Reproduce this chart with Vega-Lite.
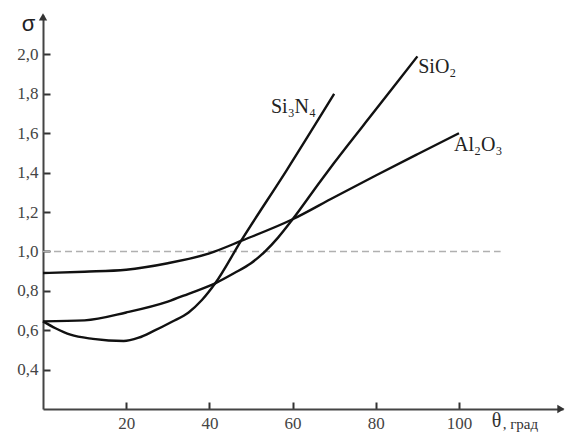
{
  "$schema": "https://vega.github.io/schema/vega-lite/v6.json",
  "width": 520,
  "height": 394,
  "autosize": "none",
  "padding": {"left": 43, "top": 15, "right": 10, "bottom": 23},
  "background": "white",
  "config": {"view": {"stroke": null}},
  "datasets": {
    "curves": [
      {"material": "Al2O3", "theta": 0, "sigma": 0.89},
      {"material": "Al2O3", "theta": 10, "sigma": 0.897},
      {"material": "Al2O3", "theta": 20, "sigma": 0.907},
      {"material": "Al2O3", "theta": 30, "sigma": 0.94},
      {"material": "Al2O3", "theta": 40, "sigma": 0.99},
      {"material": "Al2O3", "theta": 47.6, "sigma": 1.053},
      {"material": "Al2O3", "theta": 60, "sigma": 1.163},
      {"material": "Al2O3", "theta": 70, "sigma": 1.275},
      {"material": "Al2O3", "theta": 80, "sigma": 1.385},
      {"material": "Al2O3", "theta": 90, "sigma": 1.493},
      {"material": "Al2O3", "theta": 100, "sigma": 1.6},
      {"material": "SiO2", "theta": 0, "sigma": 0.645},
      {"material": "SiO2", "theta": 10, "sigma": 0.65},
      {"material": "SiO2", "theta": 20, "sigma": 0.69},
      {"material": "SiO2", "theta": 30, "sigma": 0.745},
      {"material": "SiO2", "theta": 35, "sigma": 0.785},
      {"material": "SiO2", "theta": 41.4, "sigma": 0.838},
      {"material": "SiO2", "theta": 46, "sigma": 0.89},
      {"material": "SiO2", "theta": 50, "sigma": 0.94},
      {"material": "SiO2", "theta": 53.4, "sigma": 1.0},
      {"material": "SiO2", "theta": 56.5, "sigma": 1.07},
      {"material": "SiO2", "theta": 60, "sigma": 1.163},
      {"material": "SiO2", "theta": 66.6, "sigma": 1.354},
      {"material": "SiO2", "theta": 70, "sigma": 1.45},
      {"material": "SiO2", "theta": 80, "sigma": 1.72},
      {"material": "SiO2", "theta": 90, "sigma": 1.99},
      {"material": "Si3N4", "theta": 0, "sigma": 0.645},
      {"material": "Si3N4", "theta": 3, "sigma": 0.61},
      {"material": "Si3N4", "theta": 6.6, "sigma": 0.577},
      {"material": "Si3N4", "theta": 12, "sigma": 0.556},
      {"material": "Si3N4", "theta": 19.4, "sigma": 0.545},
      {"material": "Si3N4", "theta": 23, "sigma": 0.562},
      {"material": "Si3N4", "theta": 26.5, "sigma": 0.595},
      {"material": "Si3N4", "theta": 31, "sigma": 0.643},
      {"material": "Si3N4", "theta": 35, "sigma": 0.69},
      {"material": "Si3N4", "theta": 38.2, "sigma": 0.753},
      {"material": "Si3N4", "theta": 41.4, "sigma": 0.838},
      {"material": "Si3N4", "theta": 47.6, "sigma": 1.053},
      {"material": "Si3N4", "theta": 58.6, "sigma": 1.413},
      {"material": "Si3N4", "theta": 70, "sigma": 1.8}
    ],
    "labels": [
      {"label": "Si₃N₄", "theta": 54.8, "sigma": 1.733},
      {"label": "SiO₂", "theta": 90.2, "sigma": 1.938},
      {"label": "Al₂O₃", "theta": 98.8, "sigma": 1.54}
    ],
    "ref": [{"theta": 0, "theta2": 110, "sigma": 1.0}],
    "arrowUp": [{"theta": 0, "sigma": 2.19}],
    "arrowRight": [{"theta": 124.5, "sigma": 0.2}],
    "unit": [{"label": ", град", "theta": 110.5, "sigma": 0.096}]
  },
  "encoding": {
    "x": {"field": "theta", "type": "quantitative", "scale": {"domain": [0, 125], "nice": false, "zero": false},
      "axis": {
        "values": [20, 40, 60, 80, 100],
        "labelFont": "Liberation Serif", "labelFontSize": 17, "labelColor": "#444",
        "tickSize": -7, "tickColor": "#333", "tickWidth": 2,
        "domainColor": "#444", "domainWidth": 2, "grid": false,
        "labelPadding": 13,
        "title": "θ", "titleFont": "Liberation Serif", "titleFontSize": 20, "titleFontWeight": "normal",
        "titleColor": "#333", "titleX": 453, "titleY": 21, "titleAlign": "center", "titleBaseline": "bottom"
      }},
    "y": {"field": "sigma", "type": "quantitative", "scale": {"domain": [0.2, 2.2], "nice": false, "zero": false},
      "axis": {
        "values": [0.4, 0.6, 0.8, 1.0, 1.2, 1.4, 1.6, 1.8, 2.0],
        "labelExpr": "replace(format(datum.value, '.1f'), '.', ',')",
        "labelFont": "Liberation Serif", "labelFontSize": 17, "labelColor": "#444",
        "tickSize": -7, "tickColor": "#333", "tickWidth": 2,
        "domainColor": "#444", "domainWidth": 2, "grid": false,
        "labelPadding": 12,
        "title": "σ", "titleFont": "Liberation Sans", "titleFontSize": 22, "titleFontWeight": "normal",
        "titleColor": "#222", "titleAngle": 0, "titleX": -15, "titleY": 8, "titleAlign": "center", "titleBaseline": "middle"
      }}
  },
  "layer": [
    {
      "data": {"name": "ref"},
      "mark": {"type": "rule", "color": "#b0b0b0", "strokeWidth": 1.5, "strokeDash": [7, 4]},
      "encoding": {"x2": {"field": "theta2"}}
    },
    {
      "data": {"name": "curves"},
      "mark": {"type": "line", "color": "#111111", "strokeWidth": 2.4, "interpolate": "monotone"},
      "encoding": {"detail": {"field": "material"}}
    },
    {
      "data": {"name": "labels"},
      "mark": {"type": "text", "align": "left", "baseline": "middle", "font": "Liberation Serif", "fontSize": 20, "color": "#222"},
      "encoding": {"text": {"field": "label"}}
    },
    {
      "data": {"name": "unit"},
      "mark": {"type": "text", "align": "left", "baseline": "alphabetic", "font": "Liberation Serif", "fontSize": 15, "color": "#333"},
      "encoding": {"text": {"field": "label"}}
    },
    {
      "data": {"name": "arrowUp"},
      "mark": {"type": "point", "shape": "triangle-up", "filled": true, "color": "#333", "size": 70, "opacity": 1},
      "encoding": {}
    },
    {
      "data": {"name": "arrowRight"},
      "mark": {"type": "point", "shape": "triangle-right", "filled": true, "color": "#333", "size": 70, "opacity": 1},
      "encoding": {}
    }
  ]
}
